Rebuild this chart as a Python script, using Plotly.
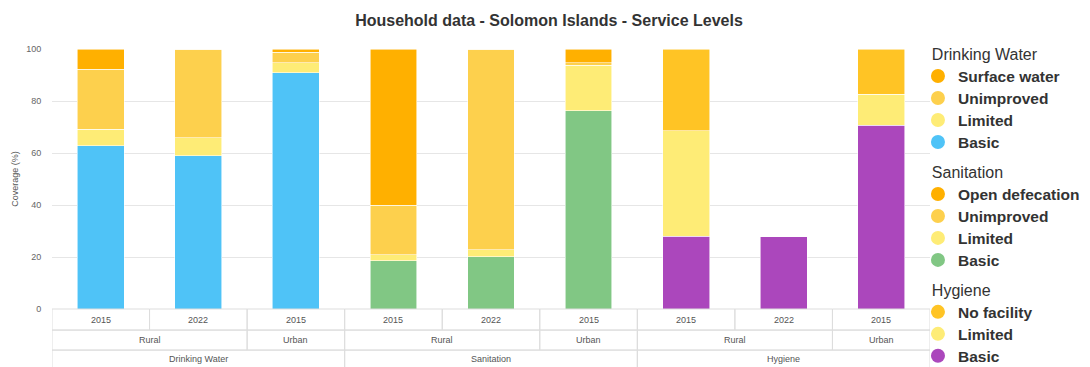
import plotly.graph_objects as go

# ---- data ----
services = ["Drinking Water"] * 3 + ["Sanitation"] * 3 + ["Hygiene"] * 3
settings = ["Rural", "Rural", "Urban"] * 3
years = ["2015", "2022", "2015"] * 3

dw_surface = [7.7, 0.0, 1.3]
dw_unimproved = [23.1, 34.1, 4.0]
dw_limited = [6.5, 6.9, 3.8]
dw_basic = [62.7, 59.0, 90.9]

san_open = [60.0, 0.0, 5.3]
san_unimproved = [19.2, 77.3, 0.9]
san_limited = [2.2, 2.6, 17.5]
san_basic = [18.6, 20.1, 76.3]

hyg_nofacility = [31.4, None, 17.4]
hyg_limited = [40.6, None, 12.0]
hyg_basic = [28.0, 27.8, 70.6]

C_ORANGE = "#FFB000"
C_UNIMP = "#FDD04D"
C_LIMIT = "#FEEC76"
C_BLUE = "#4FC3F7"
C_GREEN = "#81C784"
C_PURPLE = "#AB47BC"
C_NOFAC = "#FFC425"

groups = [
    ("Drinking Water", [("Basic", dw_basic, C_BLUE), ("Limited", dw_limited, C_LIMIT),
                        ("Unimproved", dw_unimproved, C_UNIMP), ("Surface water", dw_surface, C_ORANGE)]),
    ("Sanitation", [("Basic", san_basic, C_GREEN), ("Limited", san_limited, C_LIMIT),
                    ("Unimproved", san_unimproved, C_UNIMP), ("Open defecation", san_open, C_ORANGE)]),
    ("Hygiene", [("Basic", hyg_basic, C_PURPLE), ("Limited", hyg_limited, C_LIMIT),
                 ("No facility", hyg_nofacility, C_NOFAC)]),
]

FONT = "Liberation Sans, Arial, sans-serif"
fig = go.Figure()

# bars (stacked bottom to top)
for svc, series in groups:
    idx = [i for i, s in enumerate(services) if s == svc]
    for name, vals, col in series:
        fig.add_trace(go.Bar(
            x=idx, y=vals, width=0.48, name=name, marker_color=col,
            marker_line=dict(color="rgba(255,255,255,0.7)", width=0.8),
            showlegend=False, legendgroup=svc,
            hovertemplate=svc + " - " + name + ": %{y}%<extra></extra>",
        ))

# legend entries (circles)
for svc, series in groups:
    for k, (name, vals, col) in enumerate(reversed(series)):
        fig.add_trace(go.Scatter(
            x=[None], y=[None], mode="markers",
            name='<span style="font-size:15.5px"><b>' + name + "</b></span>",
            marker=dict(color=col, size=14, symbol="circle"),
            legendgroup=svc,
            legendgrouptitle=dict(text='<span style="font-size:16px">&nbsp;&nbsp;' + svc + "</span>",
                                  font=dict(size=14.6, color="#333")) if k == 0 else None,
        ))

# table-like multi-level category axis
line_col = "#DDDDDD"
row_y = [0, -0.081, -0.158, -0.227]
font_lbl = dict(family=FONT, size=9, color="#555")
levels = [years, settings, services]
for r, labels in enumerate(levels):
    keys = [tuple(lv[i] for lv in levels[r:]) for i in range(len(labels))]
    spans = []
    start = 0
    for i in range(1, len(labels) + 1):
        if r == 0 or i == len(labels) or keys[i] != keys[start]:
            spans.append((start if r > 0 else i - 1, i - 1))
            start = i
    for a, b in spans:
        fig.add_shape(type="rect", xref="x", yref="paper",
                      x0=a - 0.5, x1=b + 0.5, y0=row_y[r + 1], y1=row_y[r],
                      line=dict(color=line_col, width=1), fillcolor="rgba(0,0,0,0)",
                      layer="above")
        fig.add_annotation(x=(a + b) / 2, y=(row_y[r] + row_y[r + 1]) / 2,
                           xref="x", yref="paper", text=labels[a], showarrow=False,
                           font=font_lbl, xanchor="center", yanchor="middle")

fig.update_layout(
    width=1090, height=359,
    margin=dict(l=44, r=168, t=41, b=58, autoexpand=False),
    paper_bgcolor="white", plot_bgcolor="white",
    barmode="stack",
    font=dict(family=FONT, color="#333"),
    title=dict(text="<b>Household data - Solomon Islands - Service Levels</b>",
               x=0.4963, xref="container", xanchor="center",
               y=0.966, yref="container", yanchor="middle",
               font=dict(size=16, color="#333")),
    xaxis=dict(range=[-0.5, 8.5], showticklabels=False, showgrid=False,
               zeroline=False, ticks="", fixedrange=True),
    yaxis=dict(range=[0, 100], tickvals=[0, 20, 40, 60, 80, 100],
               showgrid=True, gridcolor="#E6E6E6", gridwidth=1, zeroline=False,
               ticks="outside", ticklen=8, tickcolor="rgba(0,0,0,0)",
               tickfont=dict(size=9, color="#666"),
               title=dict(text="Coverage (%)", font=dict(size=9, color="#555"), standoff=6)),
    legend=dict(x=0.9863, xanchor="left", y=1.042, yanchor="top",
                traceorder="grouped", tracegroupgap=8, maxheight=1000,
                font=dict(size=14.6, color="#333"), itemclick=False,
                bgcolor="rgba(0,0,0,0)"),
)

fig.write_html("out.html")
